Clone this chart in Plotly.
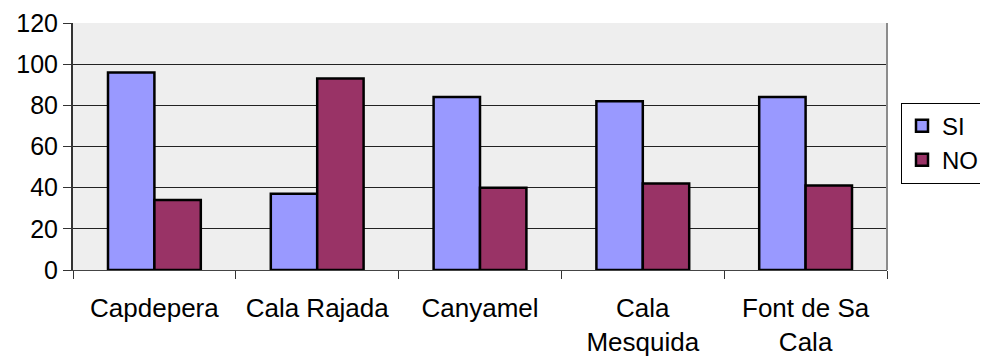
import plotly.graph_objects as go

places = ["Capdepera", "Cala Rajada", "Canyamel", "Cala<br>Mesquida", "Font de Sa<br>Cala"]
si_values = [96, 37, 84, 82, 84]
no_values = [34, 93, 40, 42, 41]
y_ticks = [0, 20, 40, 60, 80, 100, 120]

FONT = "Arial, Liberation Sans, sans-serif"

fig = go.Figure()
fig.add_trace(go.Bar(
    x=places, y=si_values, name="SI",
    marker=dict(color="#9999ff", line=dict(color="black", width=2.5)),
))
fig.add_trace(go.Bar(
    x=places, y=no_values, name="NO",
    marker=dict(color="#993366", line=dict(color="black", width=2.5)),
))

# page body has an 8px margin, so the figure is sized to the remaining window
# (t=15 is the smallest top margin that keeps the 120 tick and its gridline)
fig.update_layout(
    width=980, height=348,
    margin=dict(l=65, r=101, t=15, b=86, autoexpand=False),
    paper_bgcolor="white", plot_bgcolor="#eeeeee",
    font=dict(family=FONT, size=25, color="black"),
    barmode="group", bargap=0.43, bargroupgap=0,
    showlegend=True,
    legend=dict(
        x=893 / 980, y=0.514, xanchor="left", yanchor="middle",
        xref="container", yref="paper",
        bordercolor="black", borderwidth=1, bgcolor="white",
        font=dict(size=24), itemwidth=30, tracegroupgap=0,
    ),
    xaxis=dict(
        showgrid=False, ticks="outside", ticklen=8, tickcolor="#333333",
        tickson="boundaries", showline=True, linecolor="#444444", linewidth=1,
        tickfont=dict(size=26), ticklabelstandoff=15, automargin=False,
    ),
    yaxis=dict(
        range=[0, 120], tickmode="array", tickvals=y_ticks,
        showgrid=True, gridcolor="#222222", gridwidth=1,
        ticks="outside", ticklen=8, tickcolor="#333333",
        showline=True, linecolor="#333333", linewidth=2,
        tickfont=dict(size=25), ticksuffix="  ", zeroline=False, automargin=False,
    ),
    shapes=[dict(type="line", xref="paper", yref="paper", x0=1, x1=1, y0=0, y1=1,
                 line=dict(color="#8c8c8c", width=2))],
)

fig.write_html("out.html")
